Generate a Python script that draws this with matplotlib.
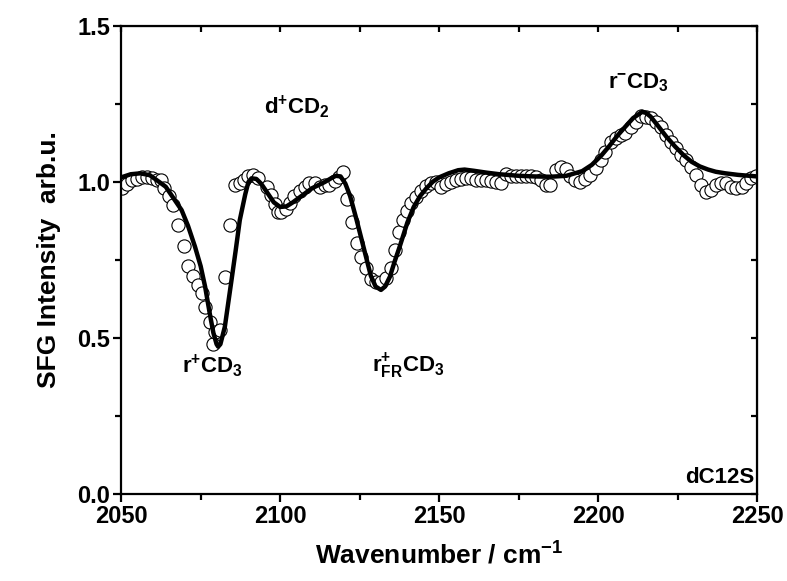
import matplotlib
matplotlib.use("Agg")
import matplotlib.pyplot as plt
from matplotlib.ticker import MultipleLocator

plt.rcParams['font.family'] = ['Liberation Sans', 'DejaVu Sans']
plt.rcParams['font.weight'] = 'bold'
plt.rcParams['mathtext.fontset'] = 'custom'
plt.rcParams['mathtext.rm'] = 'Liberation Sans:bold'
plt.rcParams['mathtext.it'] = 'Liberation Sans:bold'
plt.rcParams['mathtext.bf'] = 'Liberation Sans:bold'
plt.rcParams['mathtext.default'] = 'rm'

# measured SFG points (open circles)
wavenumber = [2050.2, 2051.7, 2053.3, 2054.9, 2056.5, 2058.0, 2059.6, 2061.2, 2062.6, 2063.6,
              2064.9, 2066.4, 2068.0, 2069.6, 2071.1, 2072.5, 2074.0, 2075.5, 2076.5, 2077.9,
              2078.9, 2079.6, 2081.0, 2082.5, 2084.2, 2085.8, 2087.3, 2088.6, 2090.0, 2091.5,
              2093.1, 2095.7, 2097.2, 2098.3, 2099.3, 2100.4, 2101.7, 2103.0, 2104.5, 2106.1,
              2107.7, 2109.2, 2110.8, 2112.4, 2114.0, 2115.5, 2117.1, 2118.5, 2119.7, 2120.9,
              2122.5, 2124.1, 2125.5, 2126.9, 2128.5, 2130.2, 2131.7, 2133.3, 2134.9, 2136.0,
              2137.5, 2138.7, 2139.8, 2141.1, 2142.7, 2144.3, 2145.8, 2147.4, 2149.0, 2150.5,
              2152.1, 2153.7, 2155.3, 2156.9, 2158.4, 2160.0, 2161.6, 2163.2, 2164.8, 2166.4,
              2168.0, 2169.6, 2171.0, 2172.6, 2174.1, 2175.7, 2177.3, 2178.9, 2180.4, 2182.0,
              2183.5, 2185.0, 2186.6, 2188.3, 2189.9, 2191.3, 2192.8, 2194.4, 2196.0, 2197.6,
              2199.2, 2200.8, 2202.3, 2203.9, 2205.5, 2207.1, 2208.6, 2210.2, 2211.8, 2213.4,
              2215.0, 2216.6, 2218.2, 2219.8, 2221.3, 2222.9, 2224.5, 2226.1, 2227.7, 2229.2,
              2230.8, 2232.4, 2234.0, 2235.6, 2237.2, 2238.7, 2240.3, 2241.9, 2243.5, 2245.1,
              2246.6, 2248.2, 2249.6]
intensity = [0.980, 0.995, 1.005, 1.010, 1.017, 1.017, 1.012, 1.008, 1.005, 0.980,
             0.955, 0.926, 0.862, 0.795, 0.731, 0.699, 0.670, 0.643, 0.600, 0.550,
             0.480, 0.520, 0.525, 0.696, 0.862, 0.990, 0.996, 1.006, 1.018, 1.022,
             1.012, 0.985, 0.960, 0.930, 0.905, 0.903, 0.915, 0.933, 0.955, 0.970,
             0.985, 0.998, 0.998, 0.985, 0.990, 0.990, 1.003, 1.015, 1.033, 0.947,
             0.873, 0.803, 0.760, 0.723, 0.690, 0.681, 0.678, 0.693, 0.725, 0.782,
             0.841, 0.878, 0.908, 0.932, 0.953, 0.972, 0.988, 0.998, 1.000, 0.985,
             0.993, 1.000, 1.005, 1.010, 1.012, 1.012, 1.008, 1.006, 1.005, 1.003,
             1.000, 0.996, 1.025, 1.020, 1.020, 1.018, 1.018, 1.018, 1.015, 1.005,
             0.990, 0.990, 1.038, 1.048, 1.042, 1.020, 1.005, 1.001, 1.010, 1.022,
             1.044, 1.071, 1.097, 1.129, 1.140, 1.151, 1.158, 1.178, 1.194, 1.213,
             1.209, 1.204, 1.194, 1.178, 1.151, 1.129, 1.108, 1.087, 1.071, 1.049,
             1.022, 0.990, 0.969, 0.974, 0.990, 0.996, 0.996, 0.985, 0.980, 0.985,
             0.996, 1.012, 1.020]

# fitted curve (thick line)
fit_x = [2050, 2053, 2056, 2059, 2062, 2064, 2066, 2069, 2071, 2073.2,
         2075, 2076.4, 2078, 2079, 2080, 2080.5, 2081.2, 2082.6, 2084.7, 2086,
         2087.3, 2089, 2090, 2091, 2092.5, 2094, 2096, 2098, 2100, 2102,
         2104, 2106, 2108, 2110, 2112, 2114, 2116, 2117.5, 2119, 2120.5,
         2122, 2124, 2126.5, 2128.5, 2130, 2131.7, 2133, 2134.5, 2136, 2137.5,
         2140, 2142, 2144, 2146, 2148, 2150, 2153, 2156, 2158, 2161,
         2165, 2169, 2175, 2180, 2185, 2190, 2195, 2198, 2201, 2203.4,
         2206, 2208.6, 2211, 2213.8, 2215, 2216.5, 2219, 2221.5, 2224.2, 2227,
         2229.4, 2232, 2234.6, 2237, 2240, 2244, 2250]
fit_y = [1.015, 1.025, 1.028, 1.022, 1.000, 0.985, 0.955, 0.910, 0.860, 0.793,
         0.730, 0.664, 0.570, 0.516, 0.480, 0.472, 0.480, 0.536, 0.686, 0.780,
         0.878, 0.960, 1.000, 1.012, 1.010, 0.995, 0.965, 0.935, 0.920, 0.922,
         0.935, 0.950, 0.965, 0.980, 0.990, 1.000, 1.012, 1.020, 1.018, 0.995,
         0.955, 0.880, 0.780, 0.700, 0.665, 0.654, 0.665, 0.696, 0.745, 0.790,
         0.870, 0.920, 0.955, 0.980, 1.001, 1.015, 1.028, 1.038, 1.040, 1.036,
         1.030, 1.025, 1.020, 1.018, 1.017, 1.020, 1.035, 1.055, 1.085, 1.114,
         1.148, 1.178, 1.205, 1.225, 1.222, 1.210, 1.178, 1.145, 1.114, 1.085,
         1.065, 1.050, 1.040, 1.033, 1.028, 1.023, 1.018]

fig = plt.figure(figsize=(7.87, 5.81), dpi=100)
ax = fig.add_axes([0.154, 0.150, 0.808, 0.805])

ax.plot(wavenumber, intensity, 'o', ms=9.5, mfc='white', mec='black', mew=0.8, zorder=2)
ax.plot(fit_x, fit_y, '-', color='black', lw=3.2, zorder=3)

ax.set_xlim(2050, 2250)
ax.set_ylim(0, 1.5)
ax.xaxis.set_major_locator(MultipleLocator(50))
ax.xaxis.set_minor_locator(MultipleLocator(25))
ax.yaxis.set_major_locator(MultipleLocator(0.5))
ax.yaxis.set_minor_locator(MultipleLocator(0.25))
ax.yaxis.set_major_formatter(plt.FormatStrFormatter('%.1f'))

for s in ax.spines.values():
    s.set_linewidth(1.6)
ax.tick_params(which='major', direction='out', length=6, width=1.6, labelsize=17, pad=2)
ax.tick_params(which='minor', direction='out', length=4, width=1.6)

# mirrored ticks pointing inward on top and right
top = ax.secondary_xaxis('top')
top.xaxis.set_major_locator(MultipleLocator(25))
top.tick_params(direction='in', length=4, width=1.6, labelsize=0, labeltop=False)
right = ax.secondary_yaxis('right')
right.yaxis.set_major_locator(MultipleLocator(0.25))
right.tick_params(direction='in', length=4, width=1.6, labelsize=0, labelright=False)

ax.set_xlabel('Wavenumber / cm$^{-1}$', fontsize=19, fontweight='bold', labelpad=10)
ax.set_ylabel('SFG Intensity  arb.u.', fontsize=19, fontweight='bold', labelpad=12)

ax.text(2069, 0.39, 'r$^{+}$CD$_{3}$', fontsize=16, fontweight='bold')
ax.text(2095, 1.22, 'd$^{+}$CD$_{2}$', fontsize=16, fontweight='bold')
ax.text(2129, 0.39, 'r$^{+}_{FR}$CD$_{3}$', fontsize=16, fontweight='bold')
ax.text(2203, 1.30, 'r$^{-}$CD$_{3}$', fontsize=16, fontweight='bold')
ax.text(2249, 0.02, 'dC12S', fontsize=16, fontweight='bold', ha='right', va='bottom')

fig.savefig('out.png', dpi=100)
